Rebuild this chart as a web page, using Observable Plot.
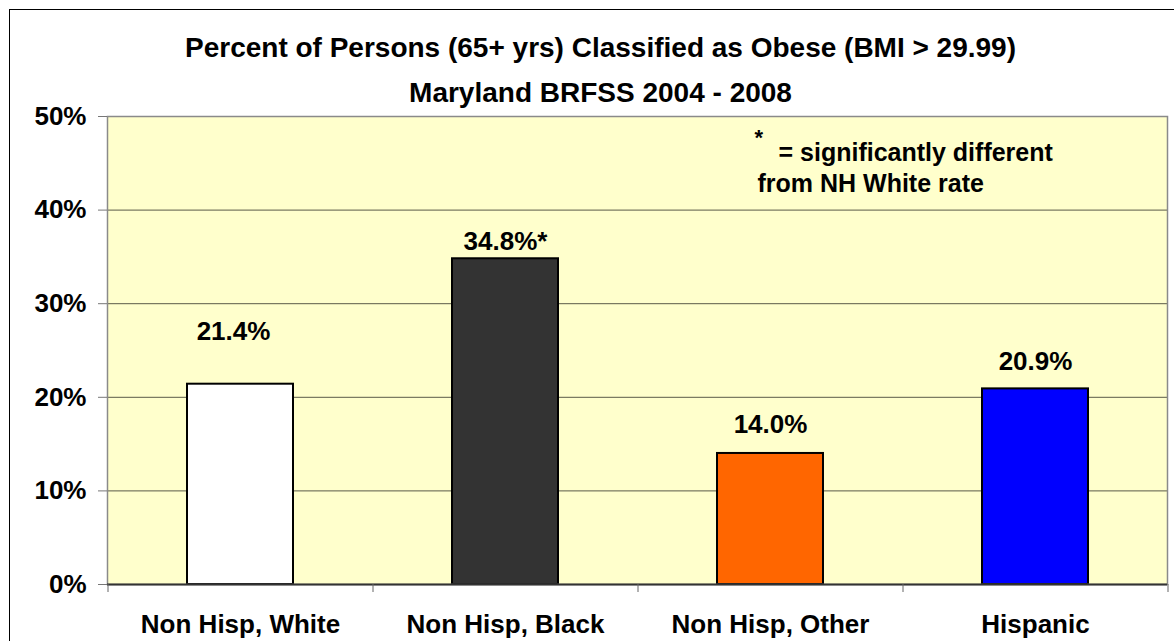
<!DOCTYPE html>
<html>
<head>
<meta charset="utf-8">
<script src="https://cdn.jsdelivr.net/npm/d3@7"></script>
<script src="https://cdn.jsdelivr.net/npm/@observablehq/plot@0.6"></script>
<style>
  html, body { margin: 0; padding: 0; background: #fff; overflow: hidden; }
  #wrap { position: relative; width: 1174px; height: 641px; }
  #border { position: absolute; left: 9px; top: 9px; width: 1200px; height: 700px; border: 1.5px solid #000; box-sizing: border-box; pointer-events: none; }
  #chart { position: absolute; left: 0; top: 0; }
  svg text { font-family: "Liberation Sans", Arial, Helvetica, sans-serif; }
</style>
</head>
<body>
<div id="wrap"><div id="chart"></div><div id="border"></div></div>
<script>
// ---- data ----
const categories = ["Non Hisp, White", "Non Hisp, Black", "Non Hisp, Other", "Hispanic"];
const values = [21.4, 34.8, 14.0, 20.9];
const significant = [false, true, false, false];
const yTicks = [0, 10, 20, 30, 40, 50];
const titleLines = ["Percent of Persons (65+ yrs) Classified as Obese (BMI > 29.99)", "Maryland BRFSS 2004 - 2008"];
const noteLines = ["= significantly different", "from NH White rate"];

// ---- styles / layout ----
const colors = ["#FFFFFF", "#333333", "#FF6600", "#0000FF"];
const W = 1174, H = 641;
const mL = 107, mR = 7, mT = 116, mB = 57;
const step = (W - mL - mR) / categories.length;
const labelGap = [44, 9, 20, 19];
const labelShift = [-7, 0, 0, 0];
const font = {fontFamily: "Liberation Sans, Arial, sans-serif", fontWeight: "bold"};

const data = categories.map((c, i) => ({cat: c, value: values[i], color: colors[i], sig: significant[i]}));

const plot = Plot.plot({
  width: W, height: H,
  marginLeft: mL, marginRight: mR, marginTop: mT, marginBottom: mB,
  style: {background: "transparent", color: "#000", overflow: "visible"},
  x: {type: "band", domain: categories, paddingInner: 0.6, paddingOuter: 0.3, label: null},
  y: {domain: [0, 50], label: null},
  marks: [
    Plot.frame({fill: "#FFFFCC", stroke: null}),
    Plot.ruleY([10, 20, 30, 40], {stroke: "#5a5a48", strokeWidth: 1}),
    Plot.barY(data, {x: "cat", y: "value", fill: "color", stroke: "#000", strokeWidth: 2}),
    Plot.frame({stroke: "#8a8a8a", strokeWidth: 1.5}),
    Plot.ruleY([0], {stroke: "#333", strokeWidth: 2}),
    Plot.axisY({ticks: yTicks, tickFormat: d => d + "%", tickSize: 9, tickPadding: 12, stroke: "#777", fontSize: 26, label: null, ...font}),
    Plot.axisX(categories, {tickSize: 8, text: null, dx: -step / 2, stroke: "#666", label: null}),
    Plot.axisX([categories[categories.length - 1]], {tickSize: 8, text: null, dx: step / 2, stroke: "#666", label: null}),
    Plot.axisX({tickSize: 0, tickPadding: 30, fontSize: 26, label: null, ...font}),
    ...data.map((d, i) => Plot.text([d], {
      x: "cat", y: "value",
      text: d => d.value.toFixed(1) + "%" + (d.sig ? "*" : ""),
      lineAnchor: "bottom", dy: -labelGap[i], dx: labelShift[i],
      fontSize: 26, fill: "#000", ...font
    })),
    Plot.text([titleLines[0]], {frameAnchor: "top", lineAnchor: "bottom", dy: -60, dx: -37, fontSize: 28, fill: "#000", ...font}),
    Plot.text([titleLines[1]], {frameAnchor: "top", lineAnchor: "bottom", dy: -15, dx: -37, fontSize: 28, fill: "#000", ...font}),
    Plot.text(["*"], {frameAnchor: "top-left", textAnchor: "start", lineAnchor: "bottom", dx: 647, dy: 28, fontSize: 22, fill: "#000", ...font}),
    Plot.text([noteLines[0]], {frameAnchor: "top-left", textAnchor: "start", lineAnchor: "bottom", dx: 671, dy: 44, fontSize: 25, fill: "#000", ...font}),
    Plot.text([noteLines[1]], {frameAnchor: "top-left", textAnchor: "start", lineAnchor: "bottom", dx: 650, dy: 75, fontSize: 25, fill: "#000", ...font})
  ]
});
document.getElementById("chart").appendChild(plot);
</script>
</body>
</html>
